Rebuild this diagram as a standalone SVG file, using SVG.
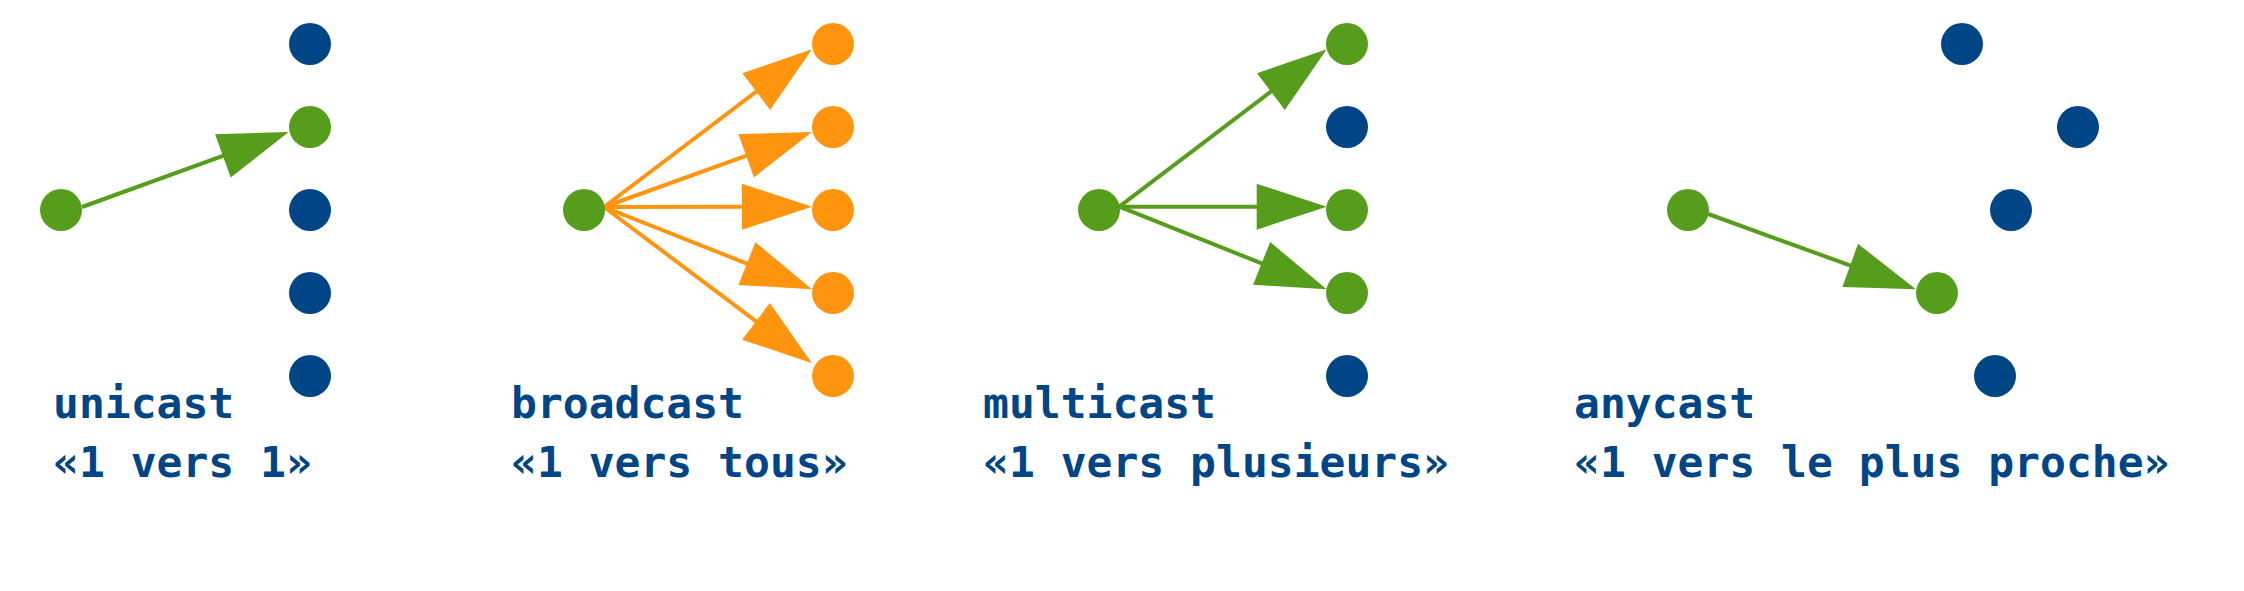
<svg xmlns="http://www.w3.org/2000/svg" width="2244" height="591" viewBox="0 0 2244 591">
<style>
.blue{fill:#004586}
.green{fill:#579d1c}
.orange{fill:#ff950e}
.cg{stroke:#579d1c;stroke-width:4;fill:none;marker-end:url(#ag)}
.co{stroke:#ff950e;stroke-width:4;fill:none;marker-end:url(#ao)}
.t{font-family:"DejaVu Sans Mono","Liberation Mono",monospace;font-weight:bold;font-size:43px;fill:#004586}
</style>
<defs>
<marker id="ag" markerUnits="userSpaceOnUse" markerWidth="70" markerHeight="46" refX="40" refY="23" orient="auto" overflow="visible"><path d="M0,0 L70,23 L0,46 Z" fill="#579d1c"/></marker>
<marker id="ao" markerUnits="userSpaceOnUse" markerWidth="70" markerHeight="46" refX="40" refY="23" orient="auto" overflow="visible"><path d="M0,0 L70,23 L0,46 Z" fill="#ff950e"/></marker>
</defs>
<rect width="2244" height="591" fill="#fff"/>
<g id="connectors">
<line class="cg" x1="82" y1="207" x2="260.5" y2="142.2"/>
<line class="co" x1="604" y1="207" x2="788.1" y2="67.4"/>
<line class="co" x1="604" y1="207" x2="783.8" y2="142.2"/>
<line class="co" x1="604" y1="207" x2="782" y2="206.7"/>
<line class="co" x1="604" y1="207" x2="784.1" y2="278.3"/>
<line class="co" x1="604" y1="207" x2="788" y2="345.3"/>
<line class="cg" x1="1119.3" y1="206.7" x2="1302.8" y2="67.4"/>
<line class="cg" x1="1119.3" y1="206.7" x2="1296.7" y2="206.7"/>
<line class="cg" x1="1119.3" y1="206.7" x2="1298.8" y2="278.2"/>
<line class="cg" x1="1708.3" y1="214" x2="1887.8" y2="279.1"/>
</g>
<g id="unicast">
<circle class="green" cx="61" cy="210" r="21"/>
<circle class="blue" cx="310" cy="44" r="21"/>
<circle class="green" cx="310" cy="127" r="21"/>
<circle class="blue" cx="310" cy="210" r="21"/>
<circle class="blue" cx="310" cy="293" r="21"/>
<circle class="blue" cx="310" cy="376" r="21"/>
<text class="t" x="53" y="418">unicast</text>
<text class="t" x="53" y="477">«1 vers 1»</text>
</g>
<g id="broadcast">
<circle class="green" cx="584" cy="210" r="21"/>
<circle class="orange" cx="833" cy="44" r="21"/>
<circle class="orange" cx="833" cy="127" r="21"/>
<circle class="orange" cx="833" cy="210" r="21"/>
<circle class="orange" cx="833" cy="293" r="21"/>
<circle class="orange" cx="833" cy="376" r="21"/>
<text class="t" x="511" y="418">broadcast</text>
<text class="t" x="511" y="477">«1 vers tous»</text>
</g>
<g id="multicast">
<circle class="green" cx="1099" cy="210" r="21"/>
<circle class="green" cx="1347" cy="44" r="21"/>
<circle class="blue" cx="1347" cy="127" r="21"/>
<circle class="green" cx="1347" cy="210" r="21"/>
<circle class="green" cx="1347" cy="293" r="21"/>
<circle class="blue" cx="1347" cy="376" r="21"/>
<text class="t" x="983" y="418">multicast</text>
<text class="t" x="983" y="477">«1 vers plusieurs»</text>
</g>
<g id="anycast">
<circle class="green" cx="1688" cy="210" r="21"/>
<circle class="blue" cx="1962" cy="44" r="21"/>
<circle class="blue" cx="2078" cy="127" r="21"/>
<circle class="blue" cx="2011" cy="210" r="21"/>
<circle class="green" cx="1937" cy="293" r="21"/>
<circle class="blue" cx="1995" cy="376" r="21"/>
<text class="t" x="1574" y="418">anycast</text>
<text class="t" x="1574" y="477">«1 vers le plus proche»</text>
</g>
</svg>
